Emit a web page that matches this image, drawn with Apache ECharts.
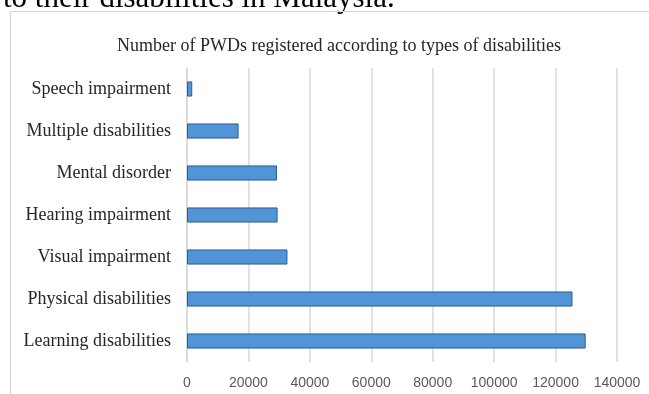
<!DOCTYPE html>
<html>
<head>
<meta charset="utf-8">
<script src="https://cdn.jsdelivr.net/npm/echarts@6/dist/echarts.min.js"></script>
<style>
  html, body { margin: 0; padding: 0; background: #ffffff; }
  #chart { width: 649px; height: 394px; }
</style>
</head>
<body>
<div id="chart"></div>
<script>
// disability types, bottom to top as drawn on the axis
var categories = ['Learning disabilities', 'Physical disabilities', 'Visual impairment',
    'Hearing impairment', 'Mental disorder', 'Multiple disabilities', 'Speech impairment'];
var registered = [129800, 125500, 32700, 29500, 29300, 16800, 1700];
var xTicks = [0, 20000, 40000, 60000, 80000, 100000, 120000, 140000];

var myCharts = echarts.init(document.getElementById('chart'));
var option = {
    animation: false,
    backgroundColor: '#ffffff',
    title: {
        text: 'Number of PWDs registered according to types of disabilities',
        left: 334,
        top: 32,
        textAlign: 'center',
        textStyle: {
            fontFamily: 'Liberation Serif',
            fontWeight: 'normal',
            fontSize: 18,
            color: '#262626'
        }
    },
    graphic: [
        { // text of the page above the figure, cut by the top edge
            type: 'text',
            left: 3,
            top: -17,
            style: {
                text: 'to their disabilities in Malaysia.',
                font: '31px "Liberation Serif"',
                fill: '#000000'
            }
        },
        { // frame of the figure
            type: 'rect',
            shape: { x: 10.5, y: 11.5, width: 700, height: 420 },
            style: { fill: 'none', stroke: '#d4d4d4', lineWidth: 1 }
        }
    ],
    grid: {
        left: 187,
        right: 32,
        top: 68,
        bottom: 32
    },
    xAxis: {
        type: 'value',
        min: xTicks[0],
        max: xTicks[xTicks.length - 1],
        interval: 20000,
        axisLine: { show: false },
        axisTick: { show: false },
        axisLabel: {
            margin: 14,
            fontFamily: 'Liberation Sans',
            fontSize: 14,
            color: '#595959',
            formatter: function (v) { return String(v); }
        },
        splitLine: {
            lineStyle: { color: '#d9d9d9', width: 1.5 }
        }
    },
    yAxis: {
        type: 'category',
        data: categories,
        axisLine: { show: true, lineStyle: { color: '#d9d9d9', width: 1.5 } },
        axisTick: { show: false },
        axisLabel: {
            margin: 16,
            fontFamily: 'Liberation Serif',
            fontSize: 18,
            color: '#262626'
        }
    },
    series: [{
        type: 'bar',
        data: registered,
        barWidth: '36%',
        itemStyle: {
            color: '#5195d8',
            borderColor: '#2c5d8c',
            borderWidth: 1
        }
    }]
};
myCharts.setOption(option);
</script>
</body>
</html>
